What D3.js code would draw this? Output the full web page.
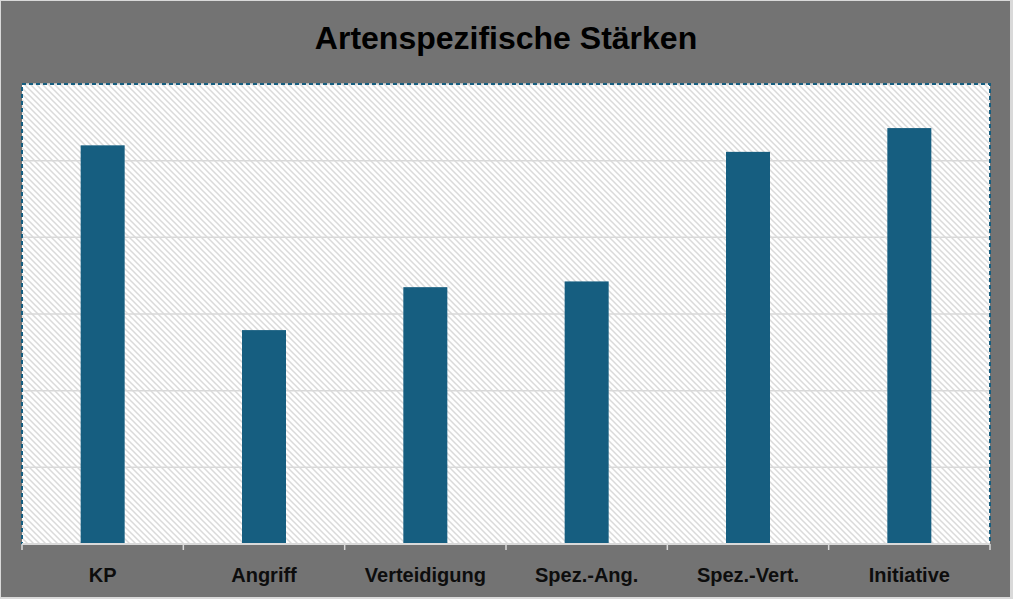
<!DOCTYPE html>
<html>
<head>
<meta charset="utf-8">
<script src="https://cdn.jsdelivr.net/npm/d3@7"></script>
<style>
  html, body { margin: 0; padding: 0; background: #d9d9d9; }
  svg { display: block; }
</style>
</head>
<body>
<svg id="chart" width="1013" height="599"></svg>
<script>
const title = "Artenspezifische Stärken";
const categories = ["KP", "Angriff", "Verteidigung", "Spez.-Ang.", "Spez.-Vert.", "Initiative"];
const values = [104, 55.8, 67, 68.5, 102.3, 108.5];
const yTicks = [0, 20, 40, 60, 80, 100, 120];

const W = 1013, H = 599;
const plot = { left: 22, top: 84, right: 990, bottom: 544 };

const svg = d3.select("#chart");

// chart background
svg.append("rect").attr("x", 1).attr("y", 1).attr("width", 1009).attr("height", 596)
  .attr("fill", "#737373");

// hatch pattern
const defs = svg.append("defs");
const pat = defs.append("pattern").attr("id", "hatch")
  .attr("patternUnits", "userSpaceOnUse").attr("width", 6).attr("height", 6);
pat.append("rect").attr("width", 6).attr("height", 6).attr("fill", "#ffffff");
pat.append("path").attr("d", "M-1,-1 L7,7 M-4,2 L2,8 M4,-2 L8,2")
  .attr("stroke", "#dadada").attr("stroke-width", 1.5);

const x = d3.scaleBand().domain(categories).range([plot.left, plot.right]).paddingInner(0).paddingOuter(0);
const y = d3.scaleLinear().domain([0, 120]).range([plot.bottom, plot.top]);

// plot area
svg.append("rect")
  .attr("x", plot.left).attr("y", plot.top)
  .attr("width", plot.right - plot.left).attr("height", plot.bottom - plot.top)
  .attr("fill", "url(#hatch)");

// gridlines
svg.append("g").selectAll("line").data(yTicks.slice(1)).join("line")
  .attr("x1", plot.left).attr("x2", plot.right)
  .attr("y1", d => y(d)).attr("y2", d => y(d))
  .attr("stroke", "#d9d9d9").attr("stroke-width", 1.5);

// bars
const bw = 44;
svg.append("g").selectAll("rect").data(categories).join("rect")
  .attr("x", d => x(d) + x.bandwidth() / 2 - bw / 2)
  .attr("width", bw)
  .attr("y", (d, i) => y(values[i]))
  .attr("height", (d, i) => y(0) - y(values[i]))
  .attr("fill", "#165e80");

// dashed border of plot area
svg.append("rect")
  .attr("x", plot.left).attr("y", plot.top)
  .attr("width", plot.right - plot.left).attr("height", plot.bottom - plot.top)
  .attr("fill", "none").attr("stroke", "#165e80").attr("stroke-width", 2)
  .attr("stroke-dasharray", "4,3");

// x axis
const xAxis = d3.axisBottom(x).tickSize(0).tickPadding(0).tickFormat("");
const gx = svg.append("g").attr("transform", `translate(0,${plot.bottom})`).call(xAxis);
gx.select(".domain").remove();
gx.append("line").attr("x1", plot.left).attr("x2", plot.right).attr("y1", 0).attr("y2", 0)
  .attr("stroke", "#d9d9d9").attr("stroke-width", 2);
const bounds = categories.map(c => x(c)).concat([plot.right]);
gx.selectAll(".bnd").data(bounds).join("line").attr("class", "bnd")
  .attr("x1", d => d).attr("x2", d => d).attr("y1", 0).attr("y2", 6)
  .attr("stroke", "#d9d9d9").attr("stroke-width", 1.5);
gx.selectAll(".tick").append("text")
  .attr("y", 38)
  .attr("text-anchor", "middle")
  .attr("fill", "#0d0d0d")
  .style("font-family", "'Liberation Sans', Arial, sans-serif")
  .style("font-weight", "bold")
  .style("font-size", "20px")
  .text(d => d);

// title
svg.append("text")
  .attr("x", 506).attr("y", 49)
  .attr("text-anchor", "middle")
  .attr("fill", "#000000")
  .style("font-family", "'Liberation Sans', Arial, sans-serif")
  .style("font-weight", "bold")
  .style("font-size", "32px")
  .text(title);
</script>
</body>
</html>
